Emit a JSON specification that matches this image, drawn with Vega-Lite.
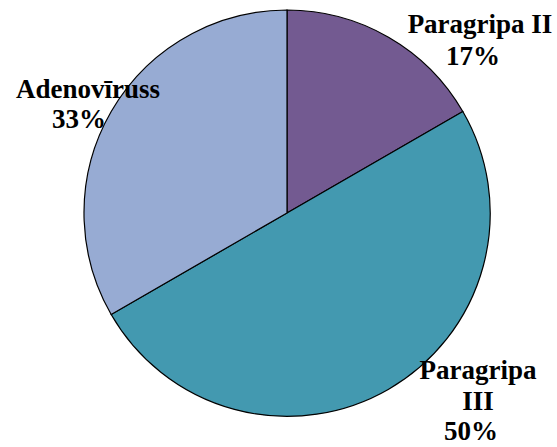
{
  "$schema": "https://vega.github.io/schema/vega-lite/v6.json",
  "autosize": {"type": "none"},
  "width": 406,
  "height": 406,
  "padding": {"left": 84, "top": 10, "right": 67, "bottom": 31},
  "background": "white",
  "config": {"view": {"stroke": null}, "text": {"font": "Times New Roman, Liberation Serif, serif", "fontWeight": "bold", "fontSize": 27, "color": "black"}},
  "data": {"values": [
    {"virus": "Paragripa II", "share": 0.1667, "rank": 1},
    {"virus": "Paragripa III", "share": 0.5, "rank": 2},
    {"virus": "Adenovīruss", "share": 0.3333, "rank": 3}
  ]},
  "layer": [
    {
      "mark": {"type": "arc", "stroke": "black", "strokeWidth": 1.2},
      "encoding": {
        "theta": {"field": "share", "type": "quantitative", "stack": true},
        "order": {"field": "rank", "type": "quantitative"},
        "color": {"field": "virus", "type": "nominal", "legend": null,
          "scale": {"domain": ["Paragripa II", "Paragripa III", "Adenovīruss"], "range": ["#735A91", "#4399B0", "#97ABD3"]}}
      }
    },
    {
      "transform": [{"filter": "datum.virus === 'Paragripa II'"}],
      "mark": {"type": "text", "dx": 193, "dy": -188, "align": "center", "baseline": "middle"},
      "encoding": {"text": {"field": "virus"}}
    },
    {
      "transform": [{"filter": "datum.virus === 'Paragripa II'"}],
      "mark": {"type": "text", "dx": 186, "dy": -156, "align": "center", "baseline": "middle"},
      "encoding": {"text": {"field": "share", "format": ".0%"}}
    },
    {
      "transform": [{"filter": "datum.virus === 'Adenovīruss'"}],
      "mark": {"type": "text", "dx": -199, "dy": -123, "align": "center", "baseline": "middle"},
      "encoding": {"text": {"field": "virus"}}
    },
    {
      "transform": [{"filter": "datum.virus === 'Adenovīruss'"}],
      "mark": {"type": "text", "dx": -208, "dy": -93, "align": "center", "baseline": "middle"},
      "encoding": {"text": {"field": "share", "format": ".0%"}}
    },
    {
      "transform": [{"filter": "datum.virus === 'Paragripa III'"}],
      "mark": {"type": "text", "dx": 191, "dy": 166, "align": "center", "baseline": "alphabetic", "lineBreak": " ", "lineHeight": 31},
      "encoding": {"text": {"field": "virus"}}
    },
    {
      "transform": [{"filter": "datum.virus === 'Paragripa III'"}],
      "mark": {"type": "text", "dx": 184, "dy": 219, "align": "center", "baseline": "middle"},
      "encoding": {"text": {"field": "share", "format": ".0%"}}
    }
  ]
}
